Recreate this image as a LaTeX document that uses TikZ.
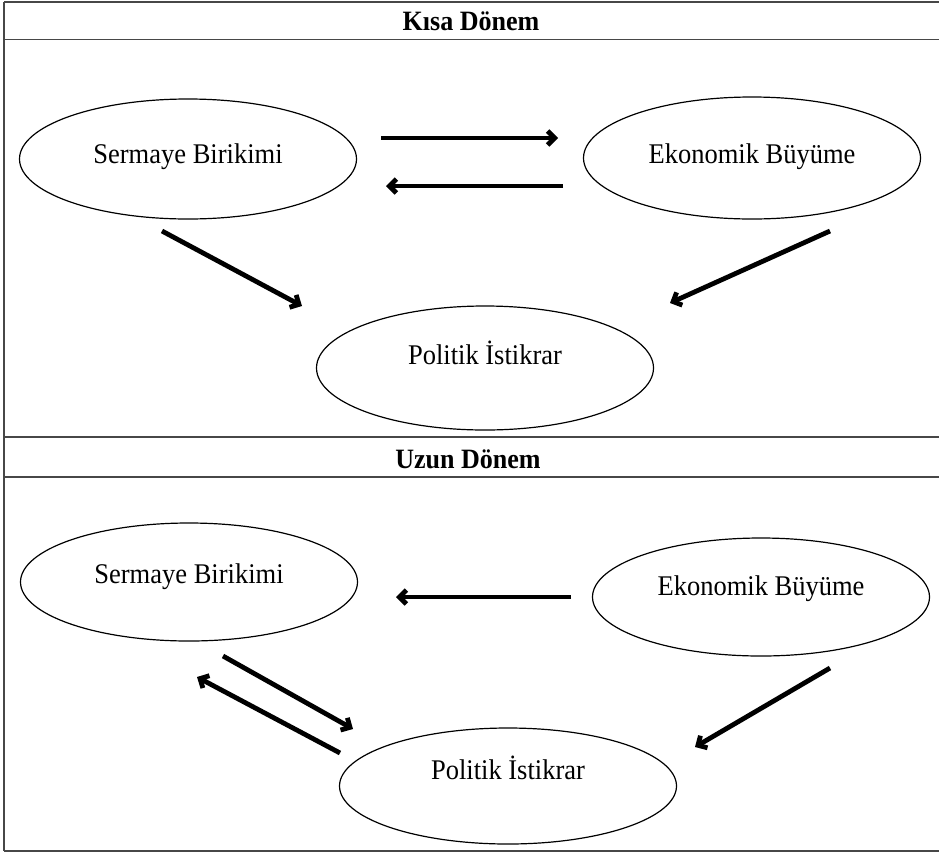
\documentclass[tikz,border=0pt]{standalone}
\usepackage{fontspec}
\setmainfont{Liberation Serif}
\newfontfamily\narrowserif[FakeStretch=0.93]{Liberation Serif}
\usetikzlibrary{arrows.meta,shapes.geometric}
\begin{document}
\begin{tikzpicture}[x=1pt,y=-1pt,
  frame/.style={draw=black!72,line width=1.6pt},
  oval/.style={ellipse,draw,line width=1.2pt,inner sep=0pt,minimum width=337pt,
    font=\narrowserif\fontsize{28.5}{32}\selectfont,text height=19pt},
  head/.style={font=\narrowserif\fontsize{28}{32}\selectfont\bfseries},
  arr/.style={line width=4.8pt,-{Straight Barb[length=7pt,width=14pt]}}]
\useasboundingbox (0,0) rectangle (939,852);
% frame
\draw[frame] (4,2) -- (4,851);
\draw[frame] (4,2) -- (939,2);
\draw[frame] (4,39.5) -- (939,39.5);
\draw[frame] (4,437) -- (939,437);
\draw[frame] (4,477) -- (939,477);
\draw[frame] (4,851) -- (939,851);
\node[head] (h1) at (471,21) {Kısa Dönem};
\node[head] (h2) at (468,459) {Uzun Dönem};
% short term
\node[oval,minimum height=120pt,text depth=11pt] (sb1) at (188,159) {Sermaye Birikimi};
\node[oval,minimum height=122pt,text depth=9pt] (eb1) at (752,158) {Ekonomik Büyüme};
\node[oval,minimum height=124pt,text depth=27pt] (pi1) at (485,368) {Politik İstikrar};
\coordinate (a1s) at (381,138); \coordinate (a1e) at (558,138);
\coordinate (a2s) at (563,186); \coordinate (a2e) at (386,186);
\coordinate (a3s) at (162,231); \coordinate (a3e) at (302,306);
\coordinate (a4s) at (830,231); \coordinate (a4e) at (670,303);
\draw[arr] (a1s) -- (a1e);
\draw[arr] (a2s) -- (a2e);
\draw[arr] (a3s) -- (a3e);
\draw[arr] (a4s) -- (a4e);
% long term
\node[oval,minimum height=118pt,text depth=17pt] (sb2) at (189,582) {Sermaye Birikimi};
\node[oval,minimum height=118pt,text depth=23pt] (eb2) at (761,597) {Ekonomik Büyüme};
\node[oval,minimum height=116pt,text depth=33pt] (pi2) at (508,786) {Politik İstikrar};
\coordinate (b1s) at (571,597); \coordinate (b1e) at (396,597);
\coordinate (b2s) at (223,656); \coordinate (b2e) at (353,729);
\coordinate (b3s) at (340,753); \coordinate (b3e) at (197,677);
\coordinate (b4s) at (830,668); \coordinate (b4e) at (695,747);
\draw[arr] (b1s) -- (b1e);
\draw[arr] (b2s) -- (b2e);
\draw[arr] (b3s) -- (b3e);
\draw[arr] (b4s) -- (b4e);
\end{tikzpicture}
\end{document}
